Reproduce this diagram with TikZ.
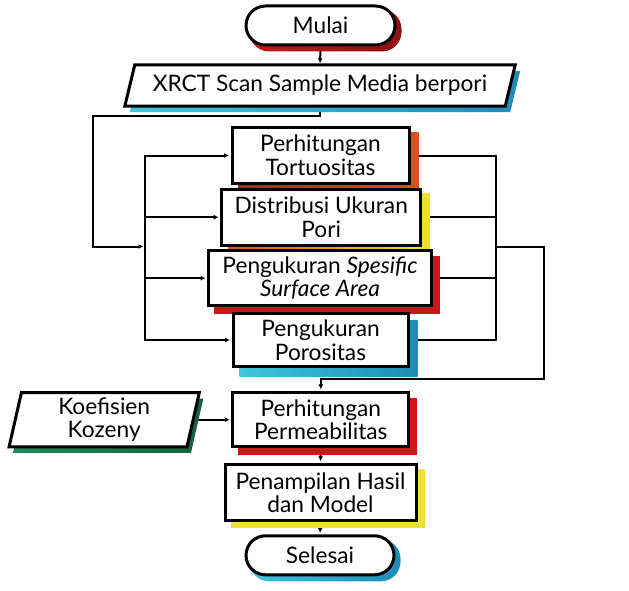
\documentclass[tikz,border=0pt]{standalone}
\usepackage{fontspec}
\setmainfont{Lato}
\usetikzlibrary{arrows.meta,calc}
\pgfdeclarelayer{bg}
\pgfdeclarelayer{sh}
\pgfdeclarelayer{fr}
\pgfsetlayers{bg,sh,fr,main}
\definecolor{shred}{HTML}{C8181A}
\definecolor{shorange}{HTML}{E0501C}
\definecolor{shyellow}{HTML}{ECE23A}
\definecolor{shcyan}{HTML}{3EC6DC}
\definecolor{shblue}{HTML}{1E8CB8}
\definecolor{shgreen}{HTML}{1F8A5C}
\tikzset{
  txt/.style={font=\fontsize{22.7}{23.6}\selectfont, align=center, inner sep=0pt, text=black},
  box/.style={txt, draw, line width=3pt, fill=white},
  term/.style={box, rounded corners=19.5pt},
  para/.style={txt},
  frame/.style={draw, line width=3pt, fill=white, line join=miter},
  conn/.style={line width=2pt, line cap=round},
  arr/.style={conn, -{Latex[length=5pt,width=5pt]}, shorten >=1.5pt},
}
\begin{document}
\begin{tikzpicture}[x=1pt,y=-1pt]
\useasboundingbox (0,0) rectangle (629,591);

% nodes
\node[term, minimum width=149pt, minimum height=39pt] (mulai) at (320.5,25.5) {Mulai};
\node[para, minimum width=380pt, minimum height=41pt] (xrct) at (320,85.5) {XRCT Scan Sample Media berpori};
\node[box, minimum width=177pt, minimum height=55pt] (tort) at (320.5,155.5) {Perhitungan\\Tortuositas};
\node[box, minimum width=199pt, minimum height=56pt] (dist) at (321.2,217.2) {Distribusi Ukuran\\Pori};
\node[box, minimum width=223pt, minimum height=54.5pt] (ssa) at (320,278.2) {Pengukuran \textit{Spesific}\\\textit{Surface Area}};
\node[box, minimum width=175pt, minimum height=53pt] (poro) at (320.5,340) {Pengukuran\\Porositas};
\node[para, minimum width=177.5pt, minimum height=54pt] (koef) at (104.2,419.7) {Koefisien\\Kozeny};
\node[box, minimum width=176pt, minimum height=54.5pt] (perm) at (320.8,419.7) {Perhitungan\\Permeabilitas};
\node[box, minimum width=191pt, minimum height=56.7pt] (pena) at (320.5,492.6) {Penampilan Hasil\\dan Model};
\node[term, minimum width=148pt, minimum height=39pt] (sel) at (320,555.3) {Selesai};

% parallelogram frames
\begin{pgfonlayer}{fr}
\path[frame] ($(xrct.north west)+(5,0)$) -- ($(xrct.north east)+(5,0)$) -- ($(xrct.south east)+(-5,0)$) -- ($(xrct.south west)+(-5,0)$) -- cycle;
\path[frame] ($(koef.north west)+(6.2,0)$) -- ($(koef.north east)+(6.2,0)$) -- ($(koef.south east)+(-6.2,0)$) -- ($(koef.south west)+(-6.2,0)$) -- cycle;
\end{pgfonlayer}

% shadows
\begin{pgfonlayer}{sh}
\shade[left color=shred, right color=shred!70!black, rounded corners=19.5pt] ($(mulai.north west)+(5,5)$) rectangle ($(mulai.south east)+(5,5)$);
\shade[left color=shcyan, right color=shblue] ($(xrct.north west)+(10,6)$) -- ($(xrct.north east)+(10,6)$) -- ($(xrct.south east)+(0,6)$) -- ($(xrct.south west)+(0,6)$) -- cycle;
\shade[left color=shred, right color=shorange] ($(tort.north west)+(8,6)$) rectangle ($(tort.south east)+(8,6)$);
\shade[left color=shorange, right color=shyellow] ($(dist.north west)+(8,6)$) rectangle ($(dist.south east)+(8,6)$);
\fill[shred] ($(ssa.north west)+(7,7)$) rectangle ($(ssa.south east)+(7,7)$);
\shade[left color=shcyan, right color=shblue] ($(poro.north west)+(8,8)$) rectangle ($(poro.south east)+(8,8)$);
\shade[left color=shgreen, right color=shgreen!70!black] ($(koef.north west)+(10.2,6)$) -- ($(koef.north east)+(10.2,6)$) -- ($(koef.south east)+(-2.2,6)$) -- ($(koef.south west)+(-2.2,6)$) -- cycle;
\fill[shred] ($(perm.north west)+(7,7)$) rectangle ($(perm.south east)+(7,7)$);
\fill[shyellow] ($(pena.north west)+(7,6)$) rectangle ($(pena.south east)+(7,6)$);
\shade[left color=shcyan, right color=shblue, rounded corners=19.5pt] ($(sel.north west)+(5,5)$) rectangle ($(sel.south east)+(5,5)$);
\end{pgfonlayer}

% connectors
\coordinate (lb) at (145,0);
\coordinate (rb) at (496,0);
\coordinate (ob) at (93,0);
\coordinate (orb) at (544,0);
\coordinate (j1) at (0,116);
\coordinate (j2) at (0,246.5);
\coordinate (j3) at (0,379);
\begin{pgfonlayer}{bg}
\draw[arr] (mulai.south) -- (xrct.north);
\draw[arr] (xrct.south) -- (xrct.south |- j1) -| (ob |- j2) -- (lb |- j2);
\draw[conn] (lb |- tort.west) -- (lb |- poro.west);
\draw[arr] (lb |- tort.west) -- (tort.west);
\draw[arr] (lb |- dist.west) -- (dist.west);
\draw[arr] (lb |- ssa.west) -- (ssa.west);
\draw[arr] (lb |- poro.west) -- (poro.west);
\draw[conn] (tort.east) -- (rb |- tort.east);
\draw[conn] (dist.east) -- (rb |- dist.east);
\draw[conn] (ssa.east) -- (rb |- ssa.east);
\draw[conn] (poro.east) -- (rb |- poro.east);
\draw[conn] (rb |- tort.east) -- (rb |- poro.east);
\draw[arr] (rb |- j2) -- (orb |- j2) -- (orb |- j3) -- (perm.north |- j3) -- (perm.north);
\draw[arr] (koef.east) -- (perm.west);
\draw[arr] (perm.south) -- (pena.north);
\draw[arr] (pena.south) -- (sel.north);
\end{pgfonlayer}
\end{tikzpicture}
\end{document}
